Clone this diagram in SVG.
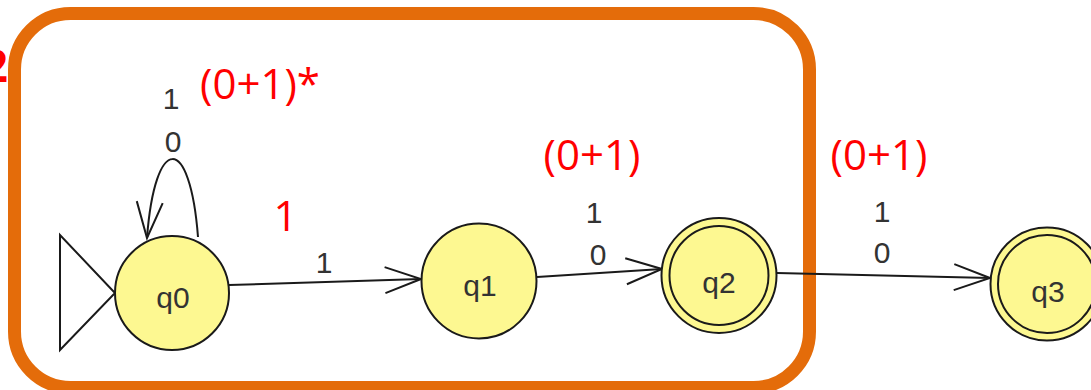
<svg xmlns="http://www.w3.org/2000/svg" width="1091" height="390" viewBox="0 0 1091 390">
<style>
.state{fill:#FDF891;stroke:#1a1a1a;stroke-width:2}
.inner{fill:none;stroke:#1a1a1a;stroke-width:2}
.lbl{font-family:"Liberation Sans",Arial,sans-serif;font-size:30px;fill:#333;text-anchor:middle}
.red{font-family:"Open Sans","Liberation Sans",sans-serif;font-size:42px;fill:#FF0000}
.edge{fill:none;stroke:#1a1a1a;stroke-width:2;marker-end:url(#arr)}
</style>
<defs>
<marker id="arr" markerUnits="userSpaceOnUse" markerWidth="40" markerHeight="30" refX="36" refY="14" orient="auto" overflow="visible">
<path d="M0 1 L36 14 L0 27" fill="none" stroke="#1a1a1a" stroke-width="2"/>
</marker>
</defs>
<rect width="1091" height="390" fill="#fff"/>
<g id="frame">
<rect x="14.5" y="13.5" width="795" height="374" rx="56" fill="none" stroke="#E46C0A" stroke-width="13"/>
</g>
<text x="8" y="82" text-anchor="end" font-family="'Open Sans','Liberation Sans',sans-serif" font-size="44" font-weight="bold" fill="#FF0000">2</text>
<g id="connectors">
<path class="edge" d="M198 237 C190 133 155 133 147 238"/>
<path class="edge" d="M229 285 L421 279"/>
<path class="edge" d="M537 277 L662 269"/>
<path class="edge" d="M777 273 L990 278"/>
<text class="lbl" x="171" y="109">1</text>
<text class="lbl" x="173" y="152">0</text>
<text class="lbl" x="324" y="273">1</text>
<text class="lbl" x="594" y="223">1</text>
<text class="lbl" x="598" y="265">0</text>
<text class="lbl" x="882" y="222">1</text>
<text class="lbl" x="882" y="263">0</text>
</g>
<g id="q0">
<path d="M60 235 L60 350 L115 293 Z" fill="none" stroke="#1a1a1a" stroke-width="2"/>
<circle class="state" cx="172" cy="293" r="57"/>
<text class="lbl" x="173" y="308">q0</text>
</g>
<g id="q1">
<circle class="state" cx="479" cy="281" r="57.5"/>
<text class="lbl" x="480" y="296">q1</text>
</g>
<g id="q2">
<circle class="state" cx="719" cy="275.5" r="57.5"/>
<circle class="inner" cx="719" cy="275.5" r="49.5"/>
<text class="lbl" x="719" y="293">q2</text>
</g>
<g id="q3">
<circle class="state" cx="1047" cy="284" r="56.5"/>
<circle class="inner" cx="1047" cy="284" r="49"/>
<text class="lbl" x="1048" y="302">q3</text>
</g>
<g id="annotations">
<text class="red" x="200" y="99">(0+1)*</text>
<text class="red" x="285.5" y="231" text-anchor="middle">1</text>
<text class="red" x="592" y="170" text-anchor="middle">(0+1)</text>
<text class="red" x="879" y="170" text-anchor="middle">(0+1)</text>
</g>
</svg>
